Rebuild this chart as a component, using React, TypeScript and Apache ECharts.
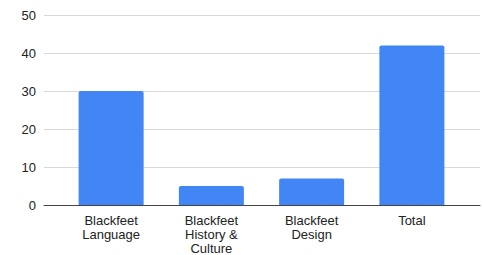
import React, { useEffect, useRef } from "react";
import * as echarts from "echarts";

const categories = ["Blackfeet\nLanguage", "Blackfeet\nHistory &\nCulture", "Blackfeet\nDesign", "Total"];
const values = [30, 5, 7, 42];
const yMin = 0;
const yMax = 50;
const yInterval = 10;

export default function App() {
  const ref = useRef<HTMLDivElement>(null);
  useEffect(() => {
    if (!ref.current) return;
    const chart = echarts.init(ref.current, undefined, { renderer: "svg" });
    chart.setOption({
      animation: false,
      grid: [
        { left: 44, right: 3, top: 15, bottom: 50 },
        { left: 61, right: 21, top: 15, bottom: 50 },
      ],
      xAxis: [
        {
          gridIndex: 0,
          type: "category",
          data: [""],
          axisLine: { show: true, lineStyle: { color: "#444", width: 1 } },
          axisTick: { show: false },
          axisLabel: { show: false },
        },
        {
          gridIndex: 1,
          type: "category",
          data: categories,
          axisLine: { show: false },
          axisTick: { show: false },
          axisLabel: {
            color: "#222",
            fontSize: 13,
            fontFamily: "Liberation Sans, Arial, sans-serif",
            lineHeight: 14,
            margin: 8,
            interval: 0,
          },
        },
      ],
      yAxis: [
        {
          gridIndex: 0,
          type: "value",
          min: yMin,
          max: yMax,
          interval: yInterval,
          axisLine: { show: false },
          axisTick: { show: false },
          splitLine: { lineStyle: { color: "#d9d9d9", width: 1 } },
          axisLabel: {
            color: "#222",
            fontSize: 13,
            fontFamily: "Liberation Sans, Arial, sans-serif",
            margin: 8,
          },
        },
        {
          gridIndex: 1,
          type: "value",
          min: yMin,
          max: yMax,
          interval: yInterval,
          show: false,
        },
      ],
      series: [
        {
          type: "bar",
          xAxisIndex: 1,
          yAxisIndex: 1,
          data: values,
          barWidth: 65,
          itemStyle: { color: "#4285F4", borderRadius: [2, 2, 0, 0] },
        },
      ],
    });
    return () => chart.dispose();
  }, []);
  return <div ref={ref} style={{ width: 483, height: 255, position: "absolute", left: 0, top: 0 }} />;
}
